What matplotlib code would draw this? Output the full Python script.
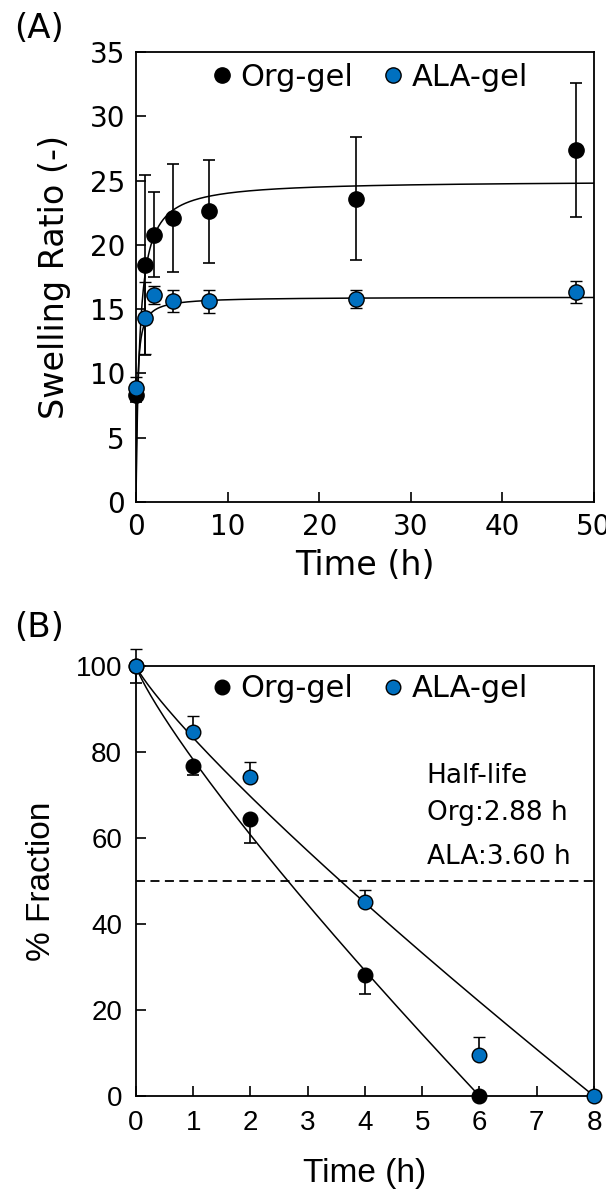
import numpy as np
import matplotlib
matplotlib.use('Agg')
import matplotlib.pyplot as plt
from matplotlib.lines import Line2D

# Panel A: swelling ratio vs time
time_a = [0, 1, 2, 4, 8, 24, 48]
org_swell = [8.3, 18.4, 20.8, 22.1, 22.6, 23.6, 27.4]
org_swell_err = [0.5, 7.0, 3.3, 4.2, 4.0, 4.8, 5.2]
ala_swell = [8.9, 14.3, 16.1, 15.6, 15.6, 15.8, 16.3]
ala_swell_err = [0.8, 2.8, 0.7, 0.85, 0.9, 0.7, 0.85]
# hyperbolic fit S = Smax * t / (K + t)
org_fit_a = (25.0, 0.41)
ala_fit_a = (15.95, 0.14)

# Panel B: degradation (% fraction remaining)
time_b = [0, 1, 2, 4, 6]
org_frac = [100, 76.7, 64.4, 28.1, 0]
org_frac_err = [4.0, 2.0, 5.5, 4.4, 0]
time_b_ala = [0, 1, 2, 4, 6, 8]
ala_frac = [100, 84.7, 74.2, 45.1, 9.5, 0]
ala_frac_err = [4.0, 3.7, 3.5, 2.8, 4.2, 0]
# fit F = 100 * (1 - (t / T)^n)
org_fit_b = (6.0, 0.85)
ala_fit_b = (8.0, 0.86)

legend_labels = ['Org-gel', 'ALA-gel']
half_life_text = ['Half-life', 'Org:2.88 h', 'ALA:3.60 h']

BLUE = '#0070c0'
MEI = 'DejaVu Sans'
ARIAL = 'Liberation Sans'

fig = plt.figure(figsize=(6.06, 11.89), dpi=100)
axA = fig.add_axes([0.2244, 0.5778, 0.7558, 0.3785])
axB = fig.add_axes([0.2244, 0.0782, 0.7558, 0.3617])


def legend_handles(ms):
    return [Line2D([], [], ls='none', marker='o', mfc='black', mec='black', ms=ms),
            Line2D([], [], ls='none', marker='o', mfc=BLUE, mec='black', mew=1.0, ms=ms)]


# ---- Panel A ----
t = np.concatenate([np.linspace(0, 2, 400), np.linspace(2, 50, 400)])
axA.plot(t, org_fit_a[0] * t / (org_fit_a[1] + t), color='black', lw=1.1, zorder=2)
axA.plot(t, ala_fit_a[0] * t / (ala_fit_a[1] + t), color='black', lw=1.1, zorder=2)
axA.errorbar(time_a, org_swell, yerr=org_swell_err, fmt='o', color='black', mfc='black',
             mec='black', ms=11, ecolor='black', elinewidth=1.2, capsize=4, capthick=1.2,
             clip_on=False, zorder=3)
axA.errorbar(time_a, ala_swell, yerr=ala_swell_err, fmt='o', color=BLUE, mfc=BLUE,
             mec='black', mew=1.0, ms=11, ecolor='black', elinewidth=1.2, capsize=4,
             capthick=1.2, clip_on=False, zorder=4)
axA.set_xlim(0, 50)
axA.set_ylim(0, 35)
axA.set_xticks(range(0, 51, 10))
axA.set_yticks(range(0, 36, 5))
axA.tick_params(direction='in', length=7, width=1.2, labelsize=20, pad=8)
for lab in axA.get_xticklabels() + axA.get_yticklabels():
    lab.set_fontfamily(MEI)
axA.set_xlabel('Time (h)', fontsize=24, family=MEI)
axA.set_ylabel('Swelling Ratio (-)', fontsize=24, family=MEI)
axA.yaxis.set_label_coords(-0.142, 0.5)
axA.xaxis.set_label_coords(0.5, -0.105)
axA.legend(legend_handles(11), legend_labels, loc='center', bbox_to_anchor=(0.505, 0.944),
           ncol=2, frameon=False, prop={'family': MEI, 'size': 22}, handletextpad=0.1,
           columnspacing=0.8, handlelength=1.0)

# ---- Panel B ----
tb = np.linspace(0, org_fit_b[0], 300)
axB.plot(tb, 100 * (1 - (tb / org_fit_b[0]) ** org_fit_b[1]), color='black', lw=1.1, zorder=2)
tb2 = np.linspace(0, ala_fit_b[0], 300)
axB.plot(tb2, 100 * (1 - (tb2 / ala_fit_b[0]) ** ala_fit_b[1]), color='black', lw=1.1, zorder=2)
axB.axhline(50, color='black', lw=1.3, ls=(0, (5, 3)), zorder=2)
axB.errorbar(time_b, org_frac, yerr=[org_frac_err, [0] * len(org_frac)], fmt='o',
             color='black', mfc='black', mec='black', ms=10.5, ecolor='black',
             elinewidth=1.2, capsize=4, capthick=1.2, clip_on=False, zorder=3)
axB.errorbar(time_b_ala, ala_frac, yerr=[[0] * len(ala_frac), ala_frac_err], fmt='o',
             color=BLUE, mfc=BLUE, mec='black', mew=1.0, ms=10.5, ecolor='black',
             elinewidth=1.2, capsize=4, capthick=1.2, clip_on=False, zorder=4)
axB.set_xlim(0, 8)
axB.set_ylim(0, 100)
axB.set_xticks(range(0, 9))
axB.set_yticks(range(0, 101, 20))
axB.tick_params(direction='in', length=7, width=1.2, labelsize=20, pad=10)
for lab in axB.get_xticklabels() + axB.get_yticklabels():
    lab.set_fontfamily(ARIAL)
axB.set_xlabel('Time (h)', fontsize=24, family=ARIAL)
axB.set_ylabel('% Fraction', fontsize=24, family=ARIAL)
axB.yaxis.set_label_coords(-0.172, 0.5)
axB.xaxis.set_label_coords(0.5, -0.144)
axB.legend(legend_handles(10.5), legend_labels, loc='center', bbox_to_anchor=(0.505, 0.947),
           ncol=2, frameon=False, prop={'family': MEI, 'size': 22}, handletextpad=0.1,
           columnspacing=0.8, handlelength=1.0)
for txt, yv in zip(half_life_text, [74.4, 65.8, 55.6]):
    axB.text(5.08, yv, txt, fontsize=19, family=MEI, va='center', ha='left')

for ax in (axA, axB):
    for s in ax.spines.values():
        s.set_linewidth(1.3)

fig.text(0.064, 0.976, '(A)', fontsize=24.5, family=MEI, ha='center', va='center')
fig.text(0.064, 0.472, '(B)', fontsize=24.5, family=MEI, ha='center', va='center')

fig.savefig('out.png', dpi=100)
